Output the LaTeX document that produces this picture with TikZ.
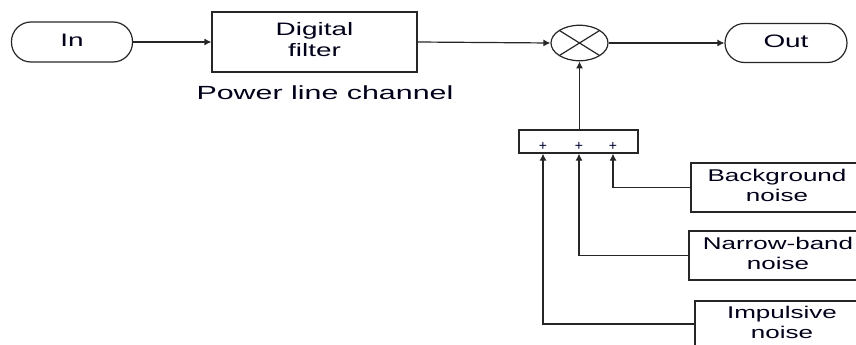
\documentclass[tikz,border=0pt]{standalone}
\usepackage{fontspec}
\usepackage{graphicx}
\setmainfont{Liberation Sans}
\usetikzlibrary{arrows.meta,shapes.geometric,calc}
\newcommand{\wtxt}[1]{\scalebox{1.55}[1]{\begin{tabular}{@{}c@{}}#1\end{tabular}}}
\newcommand{\ntxt}[1]{\scalebox{1.53}[1]{\begin{tabular}{@{}c@{}}#1\end{tabular}}}
\newcommand{\ptxt}[1]{\scalebox{1.6}[1]{#1}}
\tikzset{
  ln/.style={draw=black!85, line width=1.2pt},
  arr/.style={ln, -{Latex[length=7pt,width=7pt]}},
  stad/.style={ln, rectangle, rounded corners=19.5pt, inner sep=0pt},
  blk/.style={ln, rectangle, inner sep=0pt},
  lbl/.style={inner sep=0pt, font=\fontsize{18}{20.5}\selectfont, text=black!90!blue},
  nlbl/.style={inner sep=0pt, font=\fontsize{17}{20}\selectfont, text=black!90!blue},
  plbl/.style={inner sep=0pt, font=\fontsize{19}{20}\selectfont, text=black!90!blue},
  plus/.style={inner sep=0pt, font=\fontsize{14}{14}\selectfont, text=black!80!blue}
}
\begin{document}
\begin{tikzpicture}[x=1pt,y=-1pt]
\useasboundingbox (0,0) rectangle (856,345);
\clip (0,0) rectangle (856,345);
% main chain
\node[stad, minimum width=121pt, minimum height=40pt] (in) at (72,42) {};
\node[lbl] (intxt) at (72,42) {\wtxt{In}};
\node[blk, minimum width=205pt, minimum height=60pt] (filt) at (314.5,42) {};
\node[lbl] (filttxt) at (314.5,42) {\wtxt{Digital\\filter}};
\node[plbl] (plc) at (325,93) {\ptxt{Power line channel}};
\node[ln, ellipse, minimum width=57pt, minimum height=35.5pt, inner sep=0pt] (mul) at (579.5,43) {};
\draw[ln] ($(mul.center)+(-20.1,-12.5)$) -- ($(mul.center)+(20.1,12.5)$);
\draw[ln] ($(mul.center)+(-20.1,12.5)$) -- ($(mul.center)+(20.1,-12.5)$);
\node[stad, minimum width=122pt, minimum height=39pt] (out) at (786,43) {};
\node[lbl] (outtxt) at (786,43) {\wtxt{Out}};
\draw[arr] (in.east) -- (filt.west);
\draw[arr] (filt.east) -- (mul.west);
\draw[arr] (mul.east) -- (out.west);
% summation block
\node[blk, minimum width=119pt, minimum height=23pt] (sum) at (578.5,141.5) {};
\node[plus] (p1) at (543,146) {+};
\node[plus] (p2) at (579,146) {+};
\node[plus] (p3) at (613,146) {+};
\draw[arr] (sum.north -| mul.south) -- (mul.south);
% noise sources
\node[blk, minimum width=174pt, minimum height=49pt] (bg) at (778,187.5) {};
\node[nlbl] (bgtxt) at (777,187) {\ntxt{Background\\noise}};
\node[blk, minimum width=178pt, minimum height=49pt] (nb) at (778,255.5) {};
\node[nlbl] (nbtxt) at (778,255) {\ntxt{Narrow-band\\noise}};
\node[blk, minimum width=174pt, minimum height=46pt] (imp) at (782,324) {};
\node[nlbl] (imptxt) at (782,324) {\ntxt{Impulsive\\noise}};
\draw[arr] (bg.west) -| (p3 |- sum.south);
\draw[arr] (nb.west) -| (p2 |- sum.south);
\draw[arr] (imp.west) -| (p1 |- sum.south);
\end{tikzpicture}
\end{document}
